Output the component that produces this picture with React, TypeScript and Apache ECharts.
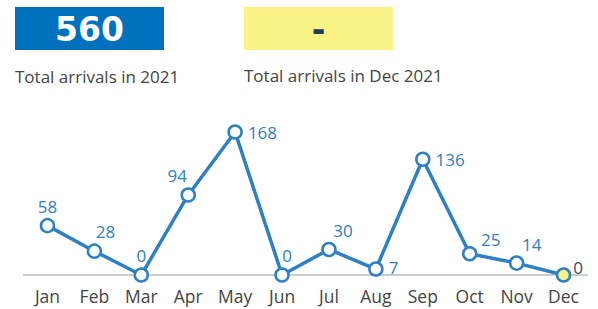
import React, { useEffect, useRef } from "react";
import * as echarts from "echarts";

const months = ["Jan", "Feb", "Mar", "Apr", "May", "Jun", "Jul", "Aug", "Sep", "Oct", "Nov", "Dec"];
const arrivals = [58, 28, 0, 94, 168, 0, 30, 7, 136, 25, 14, 0];
const labelPos = ["top", "top", "top", "top", "right", "top", "top", "right", "right", "top", "top", "right"];
const labelOffset = [[0, 2], [11, 2], [0, 2], [-11, 2], [0, 0], [5, 2], [14, 2], [0, -2], [0, 0], [21, 7], [15, 3], [-3, -8]];
const totalYear = "560";
const totalMonth = "-";
const totalYearLabel = "Total arrivals in 2021";
const totalMonthLabel = "Total arrivals in Dec 2021";

const FONT = "'Open Sans', Lato, sans-serif";

export default function App() {
  const ref = useRef<HTMLDivElement>(null);
  useEffect(() => {
    if (!ref.current) return;
    const chart = echarts.init(ref.current, null, { renderer: "svg" });
    const last = arrivals.length - 1;
    chart.setOption({
      animation: false,
      textStyle: { fontFamily: FONT },
      grid: { left: 24, right: 11, top: 132, bottom: 34, containLabel: false },
      xAxis: {
        type: "category",
        data: months,
        boundaryGap: true,
        axisLine: { lineStyle: { color: "#cccccc", width: 2 } },
        axisTick: { show: false },
        axisLabel: { color: "#444444", fontSize: 17.5, margin: 12, fontFamily: FONT },
      },
      yAxis: {
        type: "value",
        min: 0,
        max: 168,
        show: false,
        splitLine: { show: false },
      },
      series: [
        {
          type: "line",
          data: arrivals.map((v, i) => ({
            value: v,
            symbol: "circle",
            itemStyle:
              i === last
                ? { color: "#f9f285", borderColor: "#2e80c6", borderWidth: 2.5 }
                : { color: "#ffffff", borderColor: "#2e80c6", borderWidth: 2.5 },
            label: {
              show: true,
              position: labelPos[i],
              offset: labelOffset[i],
              distance: 5,
              color: i === last ? "#3a4a66" : "#2e80c6",
              fontSize: 17,
              fontFamily: FONT,
            },
          })),
          symbolSize: 13,
          showAllSymbol: true,
          lineStyle: { color: "#2e80c6", width: 3.5 },
          z: 3,
        },
      ],
      graphic: [
        { type: "rect", left: 15, top: 7, shape: { width: 149, height: 43 }, style: { fill: "#0071bc" } },
        {
          type: "text",
          x: 89.5,
          y: 29,
          style: { text: totalYear, fill: "#ffffff", fontSize: 33, fontWeight: "bold", fontFamily: "'DejaVu Sans', sans-serif", align: "center", verticalAlign: "middle" },
        },
        { type: "rect", left: 244, top: 7, shape: { width: 149, height: 43 }, style: { fill: "#f9f285" } },
        {
          type: "text",
          x: 318.5,
          y: 29,
          style: { text: totalMonth, fill: "#1f3a5f", fontSize: 33, fontWeight: "bold", fontFamily: "'DejaVu Sans', sans-serif", align: "center", verticalAlign: "middle" },
        },
        {
          type: "text",
          x: 15,
          y: 76,
          style: { text: totalYearLabel, fill: "#444444", fontSize: 17, fontFamily: FONT, verticalAlign: "middle" },
        },
        {
          type: "text",
          x: 244,
          y: 75,
          style: { text: totalMonthLabel, fill: "#444444", fontSize: 17, fontFamily: FONT, verticalAlign: "middle" },
        },
      ],
    });
    return () => chart.dispose();
  }, []);
  return (
    <div style={{ position: "fixed", left: 0, top: 0, width: 598, height: 309, background: "#fff" }}>
      <div ref={ref} style={{ width: 598, height: 309 }} />
    </div>
  );
}
